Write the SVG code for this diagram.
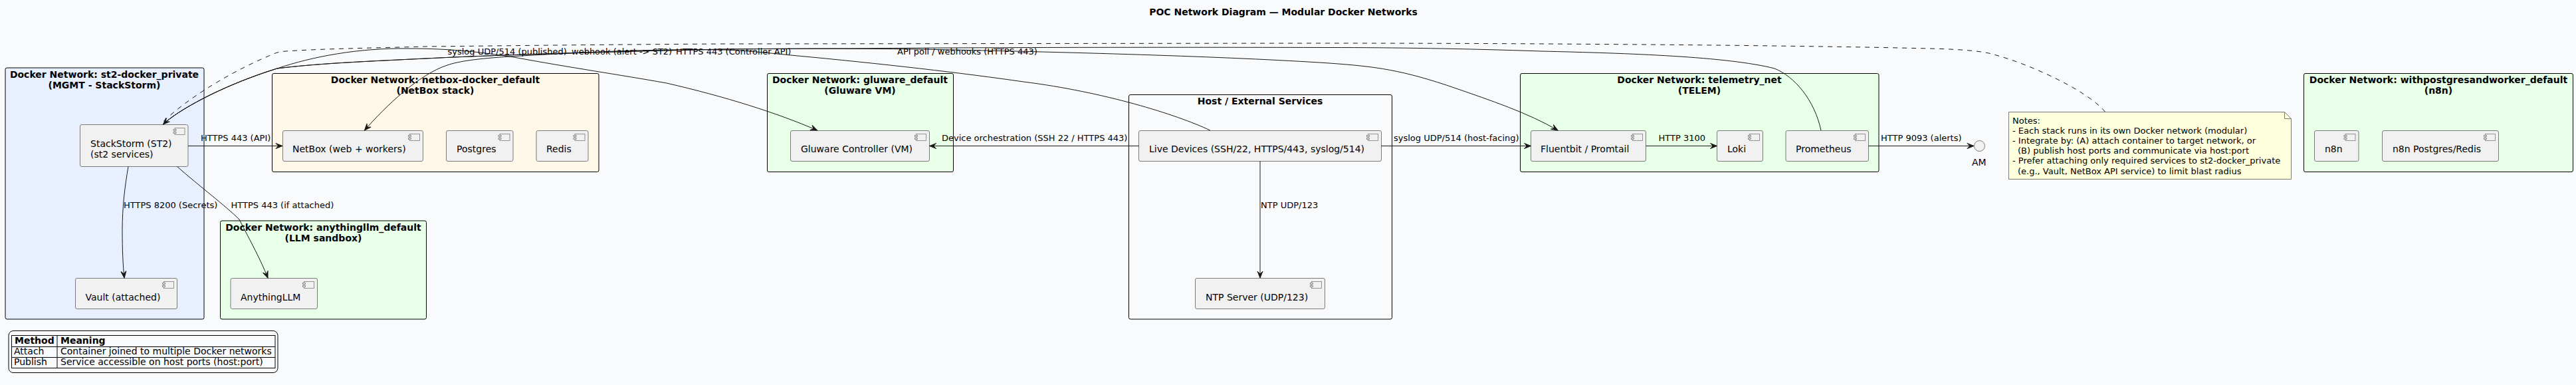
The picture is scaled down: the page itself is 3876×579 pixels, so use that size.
<svg xmlns="http://www.w3.org/2000/svg" width="3876" height="579" viewBox="0 0 3876 579">
<style>
text{font-family:"DejaVu Sans",sans-serif;fill:#000;font-size:14px}
.b{font-weight:bold}
.m{text-anchor:middle}
.l{font-size:13px}
.g{stroke:#000;stroke-width:1}
.c{fill:#F1F1F1;stroke:#7b7b7b;stroke-width:1}
.ic{fill:#F1F1F1;stroke:#7b7b7b;stroke-width:.8}
.e{fill:none;stroke:#181818;stroke-width:1;marker-end:url(#a)}
.d{fill:none;stroke:#181818;stroke-width:1;stroke-dasharray:7,7}
.t{fill:none;stroke:#000;stroke-width:1}
</style>
<defs>
<marker id="a" markerUnits="userSpaceOnUse" markerWidth="16" markerHeight="14" viewBox="-12 -7 14 14" refX="0" refY="0" orient="auto"><polygon points="0,0 -10,-4 -6,0 -10,4" fill="#181818" stroke="#181818"/></marker>
<g id="icon"><rect class="ic" x="0" y="0" width="15" height="10"/><rect class="ic" x="-2" y="2" width="4" height="2"/><rect class="ic" x="-2" y="6" width="4" height="2"/></g>
</defs>
<rect width="3876" height="579" fill="#F8FAFC"/>
<text class="b m" x="1931" y="23">POC Network Diagram — Modular Docker Networks</text>

<g id="cluster-st2"><rect class="g" x="8" y="102" width="299" height="378" rx="2.5" fill="#E8F0FF"/><text class="b m" x="157" y="117">Docker Network: st2-docker_private</text><text class="b m" x="157" y="133">(MGMT - StackStorm)</text></g>
<g id="cluster-netbox"><rect class="g" x="409.5" y="110.5" width="491.5" height="148" rx="2.5" fill="#FFF8E8"/><text class="b m" x="655" y="125">Docker Network: netbox-docker_default</text><text class="b m" x="655" y="141">(NetBox stack)</text></g>
<g id="cluster-llm"><rect class="g" x="331.5" y="332" width="310" height="148" rx="2.5" fill="#E8FFE8"/><text class="b m" x="486.5" y="347">Docker Network: anythingllm_default</text><text class="b m" x="486.5" y="363">(LLM sandbox)</text></g>
<g id="cluster-gluware"><rect class="g" x="1154.5" y="110.5" width="280" height="148" rx="2.5" fill="#E8FFE8"/><text class="b m" x="1294" y="125">Docker Network: gluware_default</text><text class="b m" x="1294" y="141">(Gluware VM)</text></g>
<g id="cluster-host"><rect class="g" x="1698.5" y="142.5" width="396" height="337.5" rx="2.5" fill="none"/><text class="b m" x="1896" y="157">Host / External Services</text></g>
<g id="cluster-telemetry"><rect class="g" x="2287.5" y="110.5" width="539.5" height="148" rx="2.5" fill="#E8FFE8"/><text class="b m" x="2557" y="125">Docker Network: telemetry_net</text><text class="b m" x="2557" y="141">(TELEM)</text></g>
<g id="cluster-n8n"><rect class="g" x="3466.5" y="110.5" width="405" height="148" rx="2.5" fill="#E8FFE8"/><text class="b m" x="3669" y="125">Docker Network: withpostgresandworker_default</text><text class="b m" x="3669" y="141">(n8n)</text></g>

<g id="node-st2"><rect class="c" x="120.5" y="187.5" width="162.5" height="63" rx="2.5"/><use href="#icon" x="263" y="192.5"/><text x="136" y="221">StackStorm (ST2)</text><text x="136" y="237">(st2 services)</text></g>
<g id="node-vault"><rect class="c" x="113.5" y="418.5" width="153" height="46" rx="2.5"/><use href="#icon" x="246.5" y="423.5"/><text x="128.5" y="452">Vault (attached)</text></g>
<g id="node-netbox"><rect class="c" x="425.5" y="196.5" width="211" height="46" rx="2.5"/><use href="#icon" x="616.5" y="201.5"/><text x="440" y="229">NetBox (web + workers)</text></g>
<g id="node-postgres"><rect class="c" x="671.5" y="196.5" width="100.5" height="46" rx="2.5"/><use href="#icon" x="752" y="201.5"/><text x="687" y="229">Postgres</text></g>
<g id="node-redis"><rect class="c" x="807" y="196.5" width="78" height="46" rx="2.5"/><use href="#icon" x="865" y="201.5"/><text x="822" y="229">Redis</text></g>
<g id="node-anythingllm"><rect class="c" x="347" y="418.5" width="130.5" height="46" rx="2.5"/><use href="#icon" x="457.5" y="423.5"/><text x="362" y="452">AnythingLLM</text></g>
<g id="node-gluware"><rect class="c" x="1189.5" y="196.5" width="209" height="46" rx="2.5"/><use href="#icon" x="1378.5" y="201.5"/><text x="1205" y="229">Gluware Controller (VM)</text></g>
<g id="node-live"><rect class="c" x="1713.5" y="196.5" width="365" height="46" rx="2.5"/><use href="#icon" x="2058.5" y="201.5"/><text x="1729" y="229">Live Devices (SSH/22, HTTPS/443, syslog/514)</text></g>
<g id="node-ntp"><rect class="c" x="1798.5" y="418.5" width="195" height="46" rx="2.5"/><use href="#icon" x="1973.5" y="423.5"/><text x="1814" y="452">NTP Server (UDP/123)</text></g>
<g id="node-fluentbit"><rect class="c" x="2303.5" y="196.5" width="173" height="46" rx="2.5"/><use href="#icon" x="2456.5" y="201.5"/><text x="2318" y="229">Fluentbit / Promtail</text></g>
<g id="node-loki"><rect class="c" x="2583.5" y="196.5" width="69" height="46" rx="2.5"/><use href="#icon" x="2632.5" y="201.5"/><text x="2599" y="229">Loki</text></g>
<g id="node-prometheus"><rect class="c" x="2687" y="196.5" width="124.5" height="46" rx="2.5"/><use href="#icon" x="2791.5" y="201.5"/><text x="2702" y="229">Prometheus</text></g>
<g id="node-n8n"><rect class="c" x="3482.5" y="196.5" width="66.5" height="46" rx="2.5"/><use href="#icon" x="3529" y="201.5"/><text x="3498" y="229">n8n</text></g>
<g id="node-n8ndb"><rect class="c" x="3584.5" y="196.5" width="175" height="46" rx="2.5"/><use href="#icon" x="3739.5" y="201.5"/><text x="3600" y="229">n8n Postgres/Redis</text></g>
<g id="node-am"><ellipse cx="2978.5" cy="219.5" rx="8" ry="8" fill="#F1F1F1" stroke="#7b7b7b"/><text x="2967" y="249">AM</text></g>
<g id="node-note"><path d="M3022.5 168.5H3437.5L3447.5 178.5V269.5H3022.5Z" fill="#FEFFDD" stroke="#7b7b7b"/><path d="M3437.5 168.5V178.5H3447.5" fill="none" stroke="#7b7b7b"/>
<text class="l" x="3028" y="186">Notes:</text><text class="l" x="3028" y="201">- Each stack runs in its own Docker network (modular)</text><text class="l" x="3028" y="216">- Integrate by: (A) attach container to target network, or</text><text class="l" x="3036" y="231">(B) publish host ports and communicate via host:port</text><text class="l" x="3028" y="246">- Prefer attaching only required services to st2-docker_private</text><text class="l" x="3036" y="262">(e.g., Vault, NetBox API service) to limit blast radius</text></g>

<g id="legend"><rect x="13" y="497.5" width="405" height="63" rx="7" fill="none" stroke="#000"/>
<rect class="t" x="17.5" y="504.5" width="396.5" height="49"/><path class="t" d="M17.5 521.5H414M17.5 537.5H414M86 504.5V553.5"/>
<text class="b" x="22" y="517">Method</text><text class="b" x="91" y="517">Meaning</text><text x="21" y="533">Attach</text><text x="91" y="533">Container joined to multiple Docker networks</text><text x="21" y="549">Publish</text><text x="91" y="549">Service accessible on host ports (host:port)</text></g>

<g id="connectors">
<path class="d" d="M3167.6 168.3C3140 135 3050 95 3000 82C2985 77 2950 74 2903 73C2700 68 2300 65 2000 65L1090 66C900 67 750 69 640 70C570 72 490 73 430 77C415 78 410 82 400 86C340 112 280 150 245.5 183"/>
<path class="e" d="M2740 196C2730 150 2700 115 2670 103C2600 85 2450 80 2319 77C2200 73 2100 71.5 2000 71.5C1800 71 1500 71 1280 73C1180 73 1090 74 1090 74C900 78 740 83 640 88C560 92 480 95 417 103C330 130 265 168 245.5 187"/>
<path class="e" d="M245.5 187C265 168 330 130 417 103C470 85 540 72 613 73C680 73 720 78 773 86C860 102 930 112 1003 125C1090 145 1170 170 1229.6 196"/>
<path class="e" d="M245.5 187C265 168 330 130 417 103C480 95 560 92 640 88C740 83 900 78 1090 74C1180 73 1280 73 1383 74C1600 78 1850 85 2000 95C2070 100 2110 105 2191 133C2240 150 2300 170 2344 196"/>
<path class="e" d="M1820.8 196C1770 172 1660 138 1540 123C1450 110 1330 96 1190 83C1150 79 1120 76 1090 75C980 73 870 79 767 85C720 88 690 92 673 98C630 112 580 160 548.5 196"/>
<path class="e" d="M193 250.5C188 280 184 310 184 347C184 375 185 400 187 418"/>
<path class="e" d="M266.6 250.5C300 280 340 310 360 330C378 365 392 390 403 418"/>
<path class="e" d="M283 219.5H425"/>
<path class="e" d="M1713.5 219.5H1398.6"/>
<path class="e" d="M2078.5 219.5H2303.5"/>
<path class="e" d="M2476.5 219.5H2583.5"/>
<path class="e" d="M2811.5 219.5H2970"/>
<path class="e" d="M1896 242.5V418"/>
</g>
<g id="labels">
<text class="l" x="302" y="212">HTTPS 443 (API)</text>
<text class="l" x="186" y="313">HTTPS 8200 (Secrets)</text>
<text class="l" x="347.5" y="313">HTTPS 443 (if attached)</text>
<text class="l" x="673.5" y="82">syslog UDP/514 (published)</text>
<text class="l" x="860" y="82">webhook (alert -&gt; ST2)</text>
<text class="l" x="1017" y="82">HTTPS 443 (Controller API)</text>
<text class="l" x="1350" y="82">API poll / webhooks (HTTPS 443)</text>
<text class="l" x="1417" y="212">Device orchestration (SSH 22 / HTTPS 443)</text>
<text class="l" x="2097" y="212">syslog UDP/514 (host-facing)</text>
<text class="l" x="2495.5" y="212">HTTP 3100</text>
<text class="l" x="2830" y="212">HTTP 9093 (alerts)</text>
<text class="l" x="1897" y="313">NTP UDP/123</text>
</g>
</svg>
